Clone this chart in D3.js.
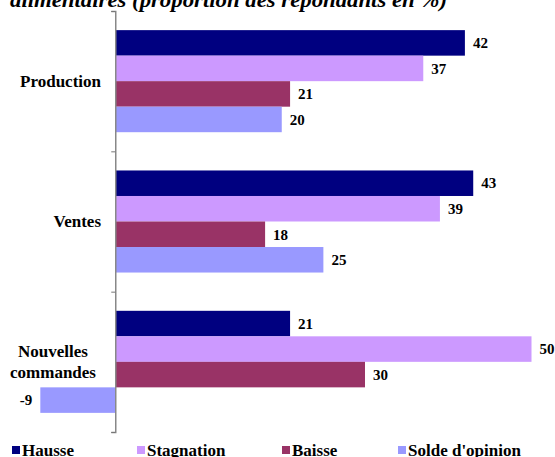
<!DOCTYPE html>
<html>
<head>
<meta charset="utf-8">
<script src="https://cdn.jsdelivr.net/npm/d3@7"></script>
<style>
  body { margin: 0; background: #fff; }
  svg text { font-weight: bold; fill: #000; }
</style>
</head>
<body>
<div id="chart"></div>
<script>
// data
const categories = ["Production", "Ventes", "Nouvelles commandes"];
const categoryLines = [["Production"], ["Ventes"], ["Nouvelles", "commandes"]];
const seriesNames = ["Hausse", "Stagnation", "Baisse", "Solde d'opinion"];
const hausse = [42, 43, 21];
const stagnation = [37, 39, 50];
const baisse = [21, 18, 30];
const solde = [20, 25, -9];
const seriesColors = ["#000080", "#cc99ff", "#993366", "#9999ff"];
const titleText = "alimentaires (proportion des répondants en %)";

const width = 555, height = 457;
const seriesValues = [hausse, stagnation, baisse, solde];
const serif = "'Liberation Serif', serif";

const svg = d3.select("#chart").append("svg")
  .attr("width", width)
  .attr("height", height);

// title (top half is cut off in the original)
svg.append("text")
  .attr("x", 10)
  .attr("y", 7)
  .attr("font-family", serif)
  .attr("textLength", 437)
  .attr("lengthAdjust", "spacingAndGlyphs")
  .style("font-style", "italic")
  .style("font-size", "22px")
  .text(titleText);

let x = d3.scaleLinear().domain([-10, 50]).range([32, 531.5]);
let y0 = d3.scaleBand().domain(categories).range([11, 432]);
let y1 = d3.scaleBand().domain(seriesNames).range([0, y0.bandwidth()]).paddingOuter(0.75);

let rows = [];
categories.forEach((c, i) => {
  seriesNames.forEach((s, j) => {
    rows.push({ cat: c, series: s, value: seriesValues[j][i], color: seriesColors[j] });
  });
});

let g = svg.append("g");

g.selectAll(".bar")
  .data(rows)
  .enter().append("rect")
  .attr("class", "bar")
  .attr("x", d => x(Math.min(0, d.value)))
  .attr("y", d => y0(d.cat) + y1(d.series))
  .attr("width", d => Math.abs(x(d.value) - x(0)))
  .attr("height", y1.bandwidth())
  .attr("fill", d => d.color);

// value labels
g.selectAll(".val")
  .data(rows)
  .enter().append("text")
  .attr("class", "val")
  .attr("font-family", serif)
  .attr("x", d => d.value >= 0 ? x(d.value) + 8 : x(d.value) - 8)
  .attr("y", d => y0(d.cat) + y1(d.series) + y1.bandwidth() / 2)
  .attr("dy", "0.35em")
  .attr("text-anchor", d => d.value >= 0 ? "start" : "end")
  .style("font-size", "15px")
  .text(d => d.value);

// category axis, ticks at band edges
let yTicks = d3.scaleLinear().domain([0, categories.length]).range([11, 432]);
let axis = svg.append("g")
  .attr("transform", "translate(" + x(0) + ",0)")
  .call(d3.axisLeft(yTicks).ticks(categories.length).tickSize(4).tickSizeOuter(4).tickFormat(""));
axis.select(".domain").attr("stroke", "#888").attr("stroke-width", 1.5);
axis.selectAll(".tick line").attr("stroke", "#777");

// category labels
categories.forEach((c, i) => {
  let lines = categoryLines[i];
  let cy = y0(c) + y0.bandwidth() / 2;
  let t = svg.append("text")
    .attr("font-family", serif)
    .attr("text-anchor", lines.length > 1 ? "middle" : "end")
    .style("font-size", "17px");
  lines.forEach((l, k) => {
    t.append("tspan")
      .attr("x", lines.length > 1 ? 53 : 101)
      .attr("y", cy + (k - (lines.length - 1) / 2) * 21)
      .attr("dy", "0.35em")
      .text(l);
  });
});

// legend
const legendX = [12, 137, 282, 398];
let legend = svg.selectAll(".legend")
  .data(seriesNames)
  .enter().append("g")
  .attr("class", "legend")
  .attr("transform", (d, i) => "translate(" + legendX[i] + ",446)");
legend.append("rect")
  .attr("width", 8)
  .attr("height", 8)
  .attr("fill", (d, i) => seriesColors[i]);
legend.append("text")
  .attr("font-family", serif)
  .attr("x", 10)
  .attr("y", 4)
  .attr("dy", "0.35em")
  .style("font-size", "17px")
  .text(d => d);
</script>
</body>
</html>
